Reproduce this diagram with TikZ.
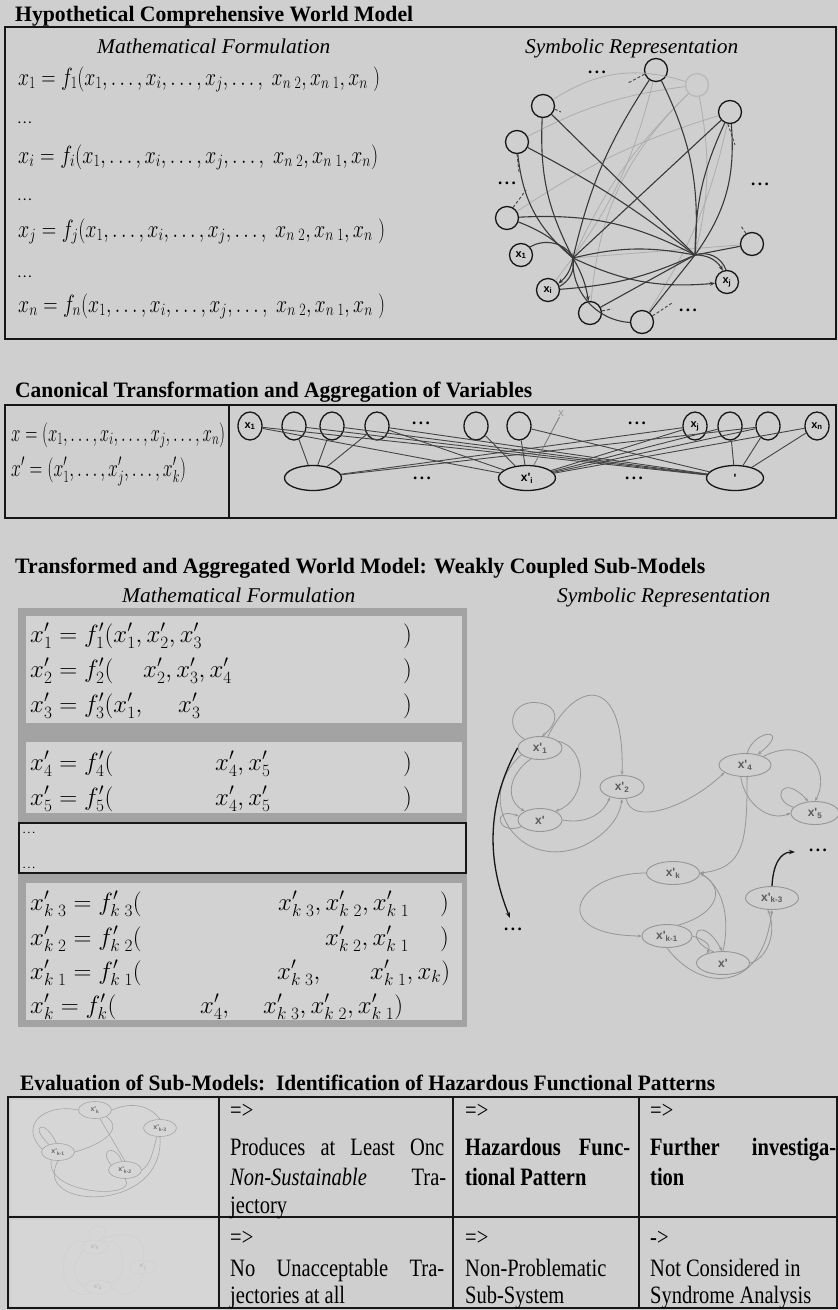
\documentclass[tikz,border=0pt]{standalone}
\usepackage{fontspec}
\setmainfont{Liberation Serif}
\newfontfamily\labfont{Liberation Sans}
\newfontfamily\condfont[FakeStretch=0.82]{Liberation Serif}
\usepackage{graphicx}
\usetikzlibrary{shapes.geometric,arrows.meta}
\definecolor{bgc}{RGB}{207,207,207}
\definecolor{band}{RGB}{163,163,163}
\definecolor{panel}{RGB}{210,210,210}
\definecolor{thumb}{RGB}{214,214,214}
\definecolor{edgeg}{RGB}{150,150,150}
\definecolor{ink}{RGB}{22,22,22}
\newcommand{\fitw}[2]{\resizebox{#1}{\height}{#2}}
\newcommand{\dotsx}{\textbf{.\hspace{2.5pt}.\hspace{2.5pt}.}}
\begin{document}
\begin{tikzpicture}[x=1pt,y=-1pt,
  ttl/.style={anchor=base west,inner sep=0pt,font=\fontsize{22}{24}\selectfont\bfseries},
  subh/.style={anchor=base west,inner sep=0pt,font=\fontsize{21}{24}\selectfont\itshape},
  eqa/.style={anchor=base west,inner sep=0pt,font=\fontsize{27}{30}\selectfont},
  eqb/.style={anchor=base west,inner sep=0pt,font=\fontsize{23.5}{26}\selectfont},
  dts/.style={inner sep=0pt,font=\fontsize{17}{17}\selectfont},
  sdts/.style={anchor=base west,inner sep=0pt,font=\fontsize{11}{11}\selectfont},
  circ/.style={circle,draw=ink,line width=1.3pt,minimum size=23pt,inner sep=0pt,font=\labfont\bfseries\fontsize{11}{11}\selectfont},
  e1/.style={draw=ink!85,line width=1.1pt},
  e1l/.style={draw=ink!35,line width=0.8pt},
  arr/.style={-{Stealth[length=5pt,width=4pt]}},
  stub/.style={draw=ink!80,line width=0.9pt,dash pattern=on 3pt off 2pt},
  tc/.style={ellipse,draw=ink,line width=1.3pt,minimum width=24pt,minimum height=28pt,inner sep=0pt,font=\labfont\bfseries\fontsize{11}{11}\selectfont},
  be/.style={ellipse,draw=ink,line width=1.3pt,minimum width=57pt,minimum height=25pt,inner sep=0pt,font=\labfont\bfseries\fontsize{12}{12}\selectfont},
  ce/.style={draw=ink!80,line width=0.9pt},
  sel/.style={ellipse,draw=edgeg,line width=0.9pt,minimum width=44pt,minimum height=23pt,inner sep=0pt,text=ink!70,font=\labfont\bfseries\fontsize{12}{12}\selectfont},
  se/.style={draw=edgeg,line width=0.8pt,-{Stealth[length=4pt,width=3pt]}},
  blk/.style={draw=ink,line width=1.3pt,-{Stealth[length=6pt,width=4.5pt]}},
  kel/.style={ellipse,draw=edgeg!85,line width=0.6pt,minimum width=33pt,minimum height=17pt,inner sep=0pt,text=ink!65,font=\labfont\bfseries\fontsize{7}{7}\selectfont},
  lel/.style={ellipse,draw=edgeg!45,line width=0.5pt,minimum width=27pt,minimum height=14pt,inner sep=0pt,text=ink!30,font=\labfont\bfseries\fontsize{6}{6}\selectfont},
  te/.style={draw=edgeg!85,line width=0.6pt},
  le/.style={draw=edgeg!45,line width=0.5pt},
  tb/.style={anchor=base west,inner sep=0pt,font=\condfont\fontsize{25}{28}\selectfont}
]
\fill[bgc] (0,0) rectangle (838,1310);
\useasboundingbox (0,0) rectangle (838,1310);

%% ===== Section 1 =====
\node[ttl] (t1) at (15,21) {\fitw{398pt}{Hypothetical Comprehensive World Model}};
\draw[line width=2pt,draw=ink] (5,27) rectangle (836,339);
\node[subh] (m1) at (97,53) {\fitw{233pt}{Mathematical Formulation}};
\node[subh] (s1h) at (525,53) {\fitw{213pt}{Symbolic Representation}};
\node[eqa] (q1) at (18,85) {\fitw{362pt}{$x_1 = f_1\Bigl(x_1,\ldots,x_i,\ldots,x_j,\ldots,\ x_{n\;2},x_{n\;1},x_n\ \Bigr)$}};
\node[sdts] (qd1) at (18,123) {\dotsx};
\node[eqa] (q2) at (18,163) {\fitw{360pt}{$x_i = f_i\Bigl(x_1,\ldots,x_i,\ldots,x_j,\ldots,\ x_{n\;2},x_{n\;1},x_n\Bigr)$}};
\node[sdts] (qd2) at (18,200) {\dotsx};
\node[eqa] (q3) at (18,237) {\fitw{367pt}{$x_j = f_j\Bigl(x_1,\ldots,x_i,\ldots,x_j,\ldots,\ x_{n\;2},x_{n\;1},x_n\ \Bigr)$}};
\node[sdts] (qd3) at (18,277) {\dotsx};
\node[eqa] (q4) at (18,312) {\fitw{367pt}{$x_n = f_n\Bigl(x_1,\ldots,x_i,\ldots,x_j,\ldots,\ x_{n\;2},x_{n\;1},x_n\ \Bigr)$}};

% graph
\coordinate (hA) at (573,258);
\coordinate (hB) at (695,255);
\node[circ] (n1) at (656,70) {};
\node[circ,draw=ink!30] (n2) at (697,85) {};
\node[circ] (n3) at (543,106) {};
\node[circ] (n4) at (730,112) {};
\node[circ] (n5) at (517,142) {};
\node[circ] (n6) at (507,218) {};
\node[circ] (nx1) at (521,255) {x\textsubscript{1}};
\node[circ] (nxi) at (548,290) {x\textsubscript{i}};
\node[circ] (n9) at (590,313) {};
\node[circ] (n10) at (642,322) {};
\node[circ] (nxj) at (727,282) {x\textsubscript{j}};
\node[circ] (n12) at (752,244) {};
\node[dts] (gd1) at (597,72) {\dotsx};
\node[dts] (gd2) at (507,183) {\dotsx};
\node[dts] (gd3) at (760,184) {\dotsx};
\node[dts] (gd4) at (688,310) {\dotsx};

% faint edges
\draw[e1l] (n3) to[bend left=25] (n2);
\draw[e1l] (n5) to[bend left=10] (n2);
\draw[e1l] (n2) to[bend right=10] (hA);
\draw[e1l] (n2) to[bend left=12] (hB);
\draw[e1l] (n6) to[bend left=8] (n4);
\draw[e1l] (n12) -- (hA);
\draw[e1l] (n9) to[bend left=20] (n2);
\draw[e1l] (nxi) to[bend right=12] (n1);
\draw[e1l] (n10) to[bend right=10] (n4);
% hub A
\draw[e1] (n3) to[bend right=15] (hA);
\draw[e1] (n5) to[bend right=22] (hA);
\draw[e1] (n6) to[bend left=12] (hA);
\draw[e1] (n1) to[bend right=10] (hA);
\draw[e1] (n4) -- (hA);
\draw[e1,arr] (nx1) to[bend left=45] (hA);
\draw[e1,arr] (hA) to[bend left=20] (nxi);
\draw[e1] (nxi) to[bend right=35] (hA);
\draw[e1,arr] (hA) to[bend left=10] (n9);
\draw[e1] (n10) to[bend left=45] (hA);
\draw[e1,arr] (hA) to[bend right=15] (nxj);
\draw[e1] (hA) to[bend left=12] (hB);
% hub B
\draw[e1] (n1) to[bend left=15] (hB);
\draw[e1] (n4) to[bend left=20] (hB);
\draw[e1] (n4) to[bend right=12] (hB);
\draw[e1] (n3) -- (hB);
\draw[e1] (n5) to[bend left=5] (hB);
\draw[e1] (n6) to[bend left=15] (hB);
\draw[e1,arr] (hB) to[bend left=30] (nxj);
\draw[e1] (nxj) to[bend right=45] (hB);
\draw[e1] (n12) -- (hB);
\draw[e1] (n9) -- (hB);
\draw[e1] (n10) -- (hB);
\draw[e1] (nxi) to[bend right=10] (hB);
% stubs
\coordinate (s1) at (561,112);
\coordinate (s2) at (519,172);
\coordinate (s3) at (526,190);
\coordinate (s4) at (735,145);
\coordinate (s5) at (741,226);
\coordinate (s6) at (672,303);
\coordinate (s7) at (612,309);
\coordinate (s8) at (628,83);
\draw[stub] (n3.-15) -- (s1);
\draw[stub] (n5.south) -- (s2);
\draw[stub] (n6.60) -- (s3);
\draw[stub] (n4.260) -- (s4);
\draw[stub] (n12.120) -- (s5);
\draw[stub] (n10.30) -- (s6);
\draw[stub] (n9.10) -- (s7);
\draw[stub] (n1.200) -- (s8);

%% ===== Section 2 =====
\node[ttl] (t2) at (15,397) {\fitw{517pt}{Canonical Transformation and Aggregation of Variables}};
\draw[line width=2pt,draw=ink] (5,405) rectangle (836,518);
\draw[line width=1.3pt,draw=ink] (229,405) -- (229,518);
\node[eqa] (c2a) at (11,441) {\fitw{214pt}{$x=\Bigl(x_1,\ldots,x_i,\ldots,x_j,\ldots,x_n\Bigr)$}};
\node[eqa] (c2b) at (11,476) {\fitw{175pt}{$x'=\Bigl(x'_1,\ldots,x'_j,\ldots,x'_k\Bigr)$}};
\node[tc] (c1) at (250,426) {x\textsubscript{1}};
\node[tc] (c2) at (294,426) {};
\node[tc] (c3) at (332,426) {};
\node[tc] (c4) at (377,426) {};
\node[tc] (c5) at (476,426) {};
\node[tc] (c6) at (519,426) {};
\node[inner sep=0pt,text=ink!45,font=\labfont\fontsize{11}{11}\selectfont] (xm) at (561,414) {x};
\node[tc] (c7) at (695,426) {x\textsubscript{j}};
\node[tc] (c8) at (730,426) {};
\node[tc] (c9) at (768,426) {};
\node[tc] (c10) at (817,426) {x\textsubscript{n}};
\node[dts] (cd1) at (421,423) {\dotsx};
\node[dts] (cd2) at (637,423) {\dotsx};
\node[be] (E1) at (313,478) {};
\node[be] (E2) at (527,478) {x'\textsubscript{i}};
\node[be] (E3) at (735,478) {'};
\node[dts] (cd3) at (422,478) {\dotsx};
\node[dts] (cd4) at (634,478) {\dotsx};
\draw[ce] (c2) -- (E1);
\draw[ce] (c3) -- (E1);
\draw[ce] (c4) -- (E1);
\draw[ce] (E1) -- (c7);
\draw[ce] (E1) -- (c9);
\draw[ce] (c1) -- (E2);
\draw[ce] (c1) -- (E3);
\draw[ce] (c4) -- (E2);
\draw[ce] (c4) -- (E3);
\draw[ce] (c5) -- (E2);
\draw[ce] (c6) -- (E2);
\draw[ce,draw=ink!55] (xm) -- (E2);
\draw[ce] (c7) -- (E2);
\draw[ce] (E2) -- (c8);
\draw[ce] (E2) -- (c9);
\draw[ce] (E2) -- (c10);
\draw[ce] (c8) -- (E3);
\draw[ce] (c9) -- (E3);
\draw[ce] (c10) -- (E3);
\draw[ce] (E3) -- (c2);
\draw[ce] (E3) -- (c3);
\draw[ce] (c6) -- (E3);

%% ===== Section 3 =====
\node[ttl] (t3) at (15,573) {\fitw{690pt}{Transformed and Aggregated World Model: Weakly Coupled Sub-Models}};
\node[subh] (m3) at (122,602) {\fitw{233pt}{Mathematical Formulation}};
\node[subh] (s3h) at (557,602) {\fitw{213pt}{Symbolic Representation}};
\fill[band] (18,608) rectangle (467,734);
\fill[panel] (26,616) rectangle (462,723);
\fill[band] (18,734) rectangle (467,822);
\fill[panel] (26,742) rectangle (462,813);
\draw[line width=1.6pt,draw=ink,fill=panel] (19,823) rectangle (466,873);
\fill[band] (18,874) rectangle (467,1027);
\fill[panel] (26,883) rectangle (462,1020);
% group 1
\node[eqb] (g1a) at (30,642) {$x'_1 = f'_1(x'_1, x'_2, x'_3$};
\node[eqb] (g1ap) at (403,642) {$)$};
\node[eqb] (g1b) at (30,677) {$x'_2 = f'_2($};
\node[eqb] (g1bx) at (143,677) {$x'_2, x'_3, x'_4$};
\node[eqb] (g1bp) at (403,677) {$)$};
\node[eqb] (g1c) at (30,712) {$x'_3 = f'_3(x'_1,$};
\node[eqb] (g1cx) at (178,712) {$x'_3$};
\node[eqb] (g1cp) at (403,712) {$)$};
% group 2
\node[eqb] (g2a) at (30,770) {$x'_4 = f'_4($};
\node[eqb] (g2ax) at (215,770) {$x'_4, x'_5$};
\node[eqb] (g2ap) at (403,770) {$)$};
\node[eqb] (g2b) at (30,805) {$x'_5 = f'_5($};
\node[eqb] (g2bx) at (215,805) {$x'_4, x'_5$};
\node[eqb] (g2bp) at (403,805) {$)$};
\node[sdts,font=\fontsize{9}{9}\selectfont] (gd1a) at (23,833) {\dotsx};
\node[sdts,font=\fontsize{9}{9}\selectfont] (gd1b) at (23,868) {\dotsx};
% group 3
\node[eqb] (g3a) at (30,910) {$x'_{k\;3} = f'_{k\;3}($};
\node[eqb] (g3ax) at (278,910) {$x'_{k\;3}, x'_{k\;2}, x'_{k\;1}$};
\node[eqb] (g3ap) at (440,910) {$)$};
\node[eqb] (g3b) at (30,945) {$x'_{k\;2} = f'_{k\;2}($};
\node[eqb] (g3bx) at (325,945) {$x'_{k\;2}, x'_{k\;1}$};
\node[eqb] (g3bp) at (440,945) {$)$};
\node[eqb] (g3c) at (30,979) {$x'_{k\;1} = f'_{k\;1}($};
\node[eqb] (g3cx) at (277,979) {$x'_{k\;3},$};
\node[eqb] (g3cy) at (370,979) {$x'_{k\;1}, x_k)$};
\node[eqb] (g3d) at (30,1013) {$x'_k = f'_k($};
\node[eqb] (g3dx) at (200,1013) {$x'_4,$};
\node[eqb] (g3dy) at (263,1013) {$x'_{k\;3}, x'_{k\;2}, x'_{k\;1})$};

% symbolic graph
\node[sel] (A) at (540,748) {x'\textsubscript{1}};
\node[sel] (B) at (622,787) {x'\textsubscript{2}};
\node[sel] (C) at (540,820) {x'};
\node[sel,minimum width=52pt] (D) at (745,765) {x'\textsubscript{4}};
\node[sel,minimum width=48pt] (E) at (815,813) {x'\textsubscript{5}};
\node[sel,minimum width=53pt] (F) at (673,873) {x'\textsubscript{k}};
\node[sel,minimum width=53pt] (G) at (772,898) {x'\textsubscript{k-3}};
\node[sel,minimum width=50pt] (H) at (667,936) {x'\textsubscript{k-1}};
\node[sel,minimum width=53pt] (I) at (723,963) {x'};
\coordinate (dL) at (510,918);
\coordinate (dR) at (795,852);
\node[dts] (dLt) at (513,929) {\dotsx};
\node[dts] (dRt) at (818,850) {\dotsx};
\draw[se] (A.150) .. controls (503,728) and (512,698) .. (540,703) .. controls (558,706) and (560,722) .. (A.80);
\draw[se] (A.55) .. controls (575,680) and (625,672) .. (B.north);
\draw[se] (A.20) .. controls (588,748) and (588,800) .. (C.30);
\draw[se] (A.230) .. controls (508,775) and (505,800) .. (C.150);
\draw[se] (C.200) .. controls (496,836) and (492,806) .. (C.170);
\draw[se] (A.200) .. controls (470,800) and (520,875) .. (585,845) .. controls (610,832) and (620,815) .. (B.south);
\draw[blk] (A.west) .. controls (478,820) and (495,880) .. (dL);
\draw[se] (C.east) .. controls (590,825) and (605,810) .. (B.220);
\draw[se] (B.290) .. controls (630,825) and (685,810) .. (D.200);
\draw[se] (D.80) .. controls (755,728) and (792,728) .. (D.40);
\draw[se] (D.25) .. controls (805,735) and (832,770) .. (E.north);
\draw[se] (D.250) .. controls (745,805) and (770,822) .. (E.west);
\draw[se] (E.165) .. controls (770,800) and (782,772) .. (E.120);
\draw[se] (D.280) .. controls (747,840) and (745,868) .. (F.east);
\draw[se] (F.west) .. controls (575,873) and (545,935) .. (H.west);
\draw[se] (H.45) .. controls (715,915) and (728,890) .. (F.east);
\draw[se] (I.north) .. controls (729,925) and (727,890) .. (F.east);
\draw[se] (H.east) .. controls (705,940) and (712,945) .. (I.150);
\draw[se] (I.130) .. controls (680,938) and (702,912) .. (I.95);
\draw[se] (H.south) .. controls (700,992) and (762,995) .. (G.south);
\draw[se] (I.east) .. controls (765,960) and (778,935) .. (G.250);
\draw[blk] (G.north) .. controls (773,865) and (780,852) .. (dR);

%% ===== Section 4 =====
\node[ttl,font=\condfont\fontsize{22}{24}\selectfont\bfseries] (t4) at (20,1090) {\fitw{695pt}{Evaluation of Sub-Models:\ \ Identification of Hazardous Functional Patterns}};
\fill[thumb] (11,1100) rectangle (217,1215);
\fill[thumb] (11,1220) rectangle (217,1306);
\draw[line width=1.6pt,draw=ink] (8,1097) rectangle (837,1308);
\draw[line width=1.3pt,draw=ink] (8,1217) -- (837,1217);
\draw[line width=1.3pt,draw=ink] (219,1097) -- (219,1308);
\draw[line width=1.3pt,draw=ink] (453,1097) -- (453,1308);
\draw[line width=1.3pt,draw=ink] (639,1097) -- (639,1308);
% thumbnail 1
\node[kel] (K1) at (95,1110) {x'\textsubscript{k}};
\node[kel] (K2) at (160,1128) {x'\textsubscript{k-3}};
\node[kel] (K3) at (58,1152) {x'\textsubscript{k-1}};
\node[kel] (K4) at (125,1170) {x'\textsubscript{k-2}};
\draw[te] (K1.east) .. controls (135,1100) and (152,1108) .. (K2.north);
\draw[te] (K1.west) .. controls (45,1103) and (18,1125) .. (K3.170);
\draw[te] (K3.140) .. controls (28,1125) and (45,1118) .. (K3.100);
\draw[te] (K1.330) .. controls (125,1130) and (100,1145) .. (K3.east);
\draw[te] (K1.300) -- (K4.north);
\draw[te] (K2.250) .. controls (152,1155) and (150,1165) .. (K4.east);
\draw[te] (K4.160) .. controls (98,1150) and (115,1143) .. (K4.110);
\draw[te] (K3.south) .. controls (30,1210) and (165,1215) .. (K2.south);
\draw[te] (K3.230) .. controls (45,1195) and (140,1200) .. (K4.south);
% thumbnail 2
\node[lel] (L1) at (95,1247) {x'\textsubscript{k}};
\node[lel] (L2) at (143,1267) {x'\textsubscript{j}};
\node[lel] (L3) at (98,1287) {x'\textsubscript{1}};
\draw[le] (L1.120) .. controls (80,1222) and (118,1220) .. (L1.50);
\draw[le] (L1.60) .. controls (140,1225) and (145,1245) .. (L2.north);
\draw[le] (L1.200) .. controls (70,1262) and (72,1280) .. (L3.west);
\draw[le] (L1.150) .. controls (55,1235) and (55,1305) .. (L3.220);
\draw[le] (L2.south) .. controls (140,1295) and (122,1300) .. (L3.east);
\draw[le] (L1.30) .. controls (130,1235) and (128,1290) .. (L3.30);
% table text
\node[tb] (r1a) at (230,1118) {=>};
\node[tb] (r1b) at (230,1155) {\makebox[214pt][s]{Produces at Least Onc}};
\node[tb] (r1c) at (230,1185) {\makebox[216pt][s]{\textit{Non-Sustainable} Tra-}};
\node[tb] (r1d) at (230,1213) {jectory};
\node[tb] (r1e) at (465,1118) {=>};
\node[tb] (r1f) at (465,1155) {\makebox[165pt][s]{\bfseries Hazardous Func-}};
\node[tb] (r1g) at (465,1185) {\bfseries tional Pattern};
\node[tb] (r1h) at (650,1118) {=>};
\node[tb] (r1i) at (650,1155) {\makebox[186pt][s]{\bfseries Further investiga-}};
\node[tb] (r1j) at (650,1185) {\bfseries tion};
\node[tb] (r2a) at (230,1245) {=>};
\node[tb] (r2b) at (230,1276) {\makebox[214pt][s]{No Unacceptable Tra-}};
\node[tb] (r2c) at (230,1303) {jectories at all};
\node[tb] (r2d) at (465,1245) {=>};
\node[tb] (r2e) at (465,1276) {Non-Problematic};
\node[tb] (r2f) at (465,1303) {Sub-System};
\node[tb] (r2g) at (650,1245) {->};
\node[tb] (r2h) at (650,1276) {Not Considered in};
\node[tb] (r2i) at (650,1303) {Syndrome Analysis};
\end{tikzpicture}
\end{document}
